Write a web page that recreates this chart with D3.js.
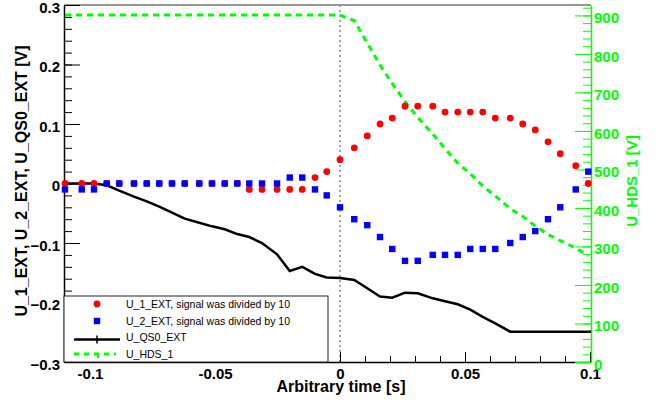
<!DOCTYPE html>
<html lang="en">
<head>
<meta charset="utf-8">
<title>U_EXT signals</title>
<script src="https://cdn.jsdelivr.net/npm/d3@7/dist/d3.min.js"></script>
<style type="text/css">
  body { margin: 0; background: #fff; }
  text { font-family: "Liberation Sans", Arial, sans-serif; }
</style>
</head>
<body>
<script type="text/javascript">
// sample times [s]
var times = [-0.110, -0.1033, -0.0984, -0.0933, -0.0883, -0.0824, -0.0773, -0.0723, -0.0672, -0.0621,
             -0.0563, -0.0512, -0.0461, -0.0411, -0.0363, -0.0312, -0.0252, -0.0201, -0.0151, -0.0100,
             -0.0053, 0.0000, 0.0057, 0.0109, 0.0160, 0.0209, 0.0260, 0.0311, 0.0371, 0.0420,
             0.0471, 0.0521, 0.0571, 0.0621, 0.0681, 0.0731, 0.0781, 0.0832, 0.0881, 0.0943, 0.0993];
// U_1_EXT (divided by 10) [V]
var u1 = [0, 0, 0, 0, 0, 0, 0, 0, 0, 0,
          0, 0, 0, 0, -0.01, -0.01, -0.01, -0.01, -0.01, 0.01,
          0.02, 0.04, 0.06, 0.08, 0.10, 0.11, 0.13, 0.13, 0.13, 0.12,
          0.12, 0.12, 0.12, 0.11, 0.11, 0.10, 0.09, 0.07, 0.05, 0.03, 0.00];
// U_2_EXT (divided by 10) [V]
var u2 = [-0.01, -0.01, -0.01, 0, 0, 0, 0, 0, 0, 0,
          0, 0, 0, 0, 0, 0, 0, 0.01, 0.01, -0.01,
          -0.02, -0.04, -0.06, -0.07, -0.09, -0.11, -0.13, -0.13, -0.12, -0.12,
          -0.12, -0.11, -0.11, -0.11, -0.10, -0.09, -0.08, -0.06, -0.04, -0.01, 0.02];
// U_QS0_EXT [V]
var qs0 = [0, 0, 0, -0.003, -0.012, -0.022, -0.030, -0.039, -0.049, -0.059,
           -0.066, -0.072, -0.077, -0.085, -0.090, -0.100, -0.119, -0.147, -0.140, -0.152,
           -0.158, -0.159, -0.162, -0.176, -0.190, -0.192, -0.1835, -0.1845, -0.193, -0.198,
           -0.203, -0.212, -0.224, -0.235, -0.249, -0.249, -0.249, -0.249, -0.249, -0.249, -0.249];
// U_HDS_1 [V], right axis
var hds = [901, 901, 901, 901, 901, 901, 901, 901, 901, 901,
           901, 901, 901, 901, 901, 901, 901, 901, 901, 901,
           901, 901, 886, 828, 771, 723, 676, 635, 592, 554,
           516, 489, 457, 431, 398, 378, 353, 331, 315, 296, 276];

var legendLabels = ["U_1_EXT, signal was divided by 10", "U_2_EXT, signal was divided by 10", "U_QS0_EXT", "U_HDS_1"];
var leftTicks = [-0.3, -0.2, -0.1, 0, 0.1, 0.2, 0.3];
var bottomTicks = [-0.1, -0.05, 0, 0.05, 0.1];
var rightTicks = [0, 100, 200, 300, 400, 500, 600, 700, 800, 900];

var w = 662, h = 406;
var padL = 64, padR = 591, padT = 5, padB = 362;
var green = "#00ff00";

var svg = d3.select("body").append("svg")
            .attr("width", w)
            .attr("height", h);

var xScale = d3.scaleLinear().domain([-0.1104, 0.1]).range([padL, padR - 1]);
var yScale = d3.scaleLinear().domain([-0.3, 0.3]).range([padB, padT]);
var y2Scale = d3.scaleLinear().domain([0, 927]).range([padB, padT]);

// frame top line
svg.append("line")
   .attr("x1", padL).attr("x2", padR)
   .attr("y1", padT).attr("y2", padT)
   .attr("stroke", "#333").attr("stroke-width", 1);

// vertical dotted line at t = 0
svg.append("line")
   .attr("x1", xScale(0)).attr("x2", xScale(0))
   .attr("y1", padT).attr("y2", padB)
   .attr("stroke", "#888").attr("stroke-width", 1.5)
   .attr("stroke-dasharray", "2,3");

// minor ticks
function minorTicks(start, stop, step) {
  var out = [];
  for (var v = start; v <= stop + step / 2; v += step) out.push(+v.toFixed(4));
  return out;
}

svg.append("g")
   .attr("transform", "translate(" + padL + ",0)")
   .call(d3.axisLeft(yScale).tickValues(minorTicks(-0.3, 0.3, 0.02)).tickSize(-8).tickFormat(""))
   .call(function(g) { g.select(".domain").remove(); });
svg.append("g")
   .attr("transform", "translate(0," + padB + ")")
   .call(d3.axisBottom(xScale).tickValues(minorTicks(-0.11, 0.1, 0.01)).tickSize(-6).tickFormat(""))
   .call(function(g) { g.select(".domain").remove(); });
svg.append("g")
   .attr("transform", "translate(" + padR + ",0)")
   .call(d3.axisRight(y2Scale).tickValues(minorTicks(0, 920, 20)).tickSize(-8).tickFormat(""))
   .call(function(g) { g.select(".domain").remove(); g.selectAll("line").attr("stroke", green); });

// major axes
var yAxis = svg.append("g")
   .attr("transform", "translate(" + padL + ",0)")
   .call(d3.axisLeft(yScale).tickValues(leftTicks).tickSizeInner(-16).tickSizeOuter(0).tickPadding(4)
         .tickFormat(function(d) { return d === 0 ? "0" : d3.format(".1f")(d); }));
var xAxis = svg.append("g")
   .attr("transform", "translate(0," + padB + ")")
   .call(d3.axisBottom(xScale).tickValues(bottomTicks).tickSizeInner(-10).tickSizeOuter(0).tickPadding(6)
         .tickFormat(function(d) { return d === 0 ? "0" : String(+d.toFixed(2)); }));
var y2Axis = svg.append("g")
   .attr("transform", "translate(" + padR + ",0)")
   .call(d3.axisRight(y2Scale).tickValues(rightTicks).tickSizeInner(-16).tickSizeOuter(0).tickPadding(3));

[yAxis, xAxis, y2Axis].forEach(function(g) {
  g.selectAll("text").attr("font-size", "15px").attr("font-weight", "bold")
   .attr("font-family", "'Liberation Sans', Arial, sans-serif");
  g.select(".domain").attr("stroke-width", 1.5);
});
yAxis.selectAll("text").attr("dy", "0.48em");
y2Axis.selectAll("text").attr("dy", "0.48em");
y2Axis.selectAll("text").attr("fill", green);
y2Axis.selectAll("line").attr("stroke", green);
y2Axis.select(".domain").attr("stroke", green);

// axis titles
svg.append("text")
   .attr("transform", "translate(27,181) rotate(-90)")
   .attr("text-anchor", "middle")
   .attr("font-size", "16px").attr("font-weight", "bold")
   .text("U_1_EXT, U_2_EXT, U_QS0_EXT [V]");
svg.append("text")
   .attr("transform", "translate(637,181) rotate(-90)")
   .attr("text-anchor", "middle")
   .attr("font-size", "15px").attr("font-weight", "bold")
   .attr("fill", green)
   .text("U_HDS_1 [V]");
svg.append("text")
   .attr("x", 341).attr("y", 392)
   .attr("text-anchor", "middle")
   .attr("font-size", "16px").attr("font-weight", "bold")
   .text("Arbitrary time [s]");

// series
var line = d3.line()
  .x(function(d, i) { return xScale(times[i]); })
  .y(function(d) { return yScale(d); });
var line2 = d3.line()
  .x(function(d, i) { return xScale(times[i]); })
  .y(function(d) { return y2Scale(d); });

svg.append("path")
   .attr("d", line2(hds))
   .attr("fill", "none").attr("stroke", green)
   .attr("stroke-width", 3).attr("stroke-dasharray", "6,5");

svg.append("path")
   .attr("d", line(qs0))
   .attr("fill", "none").attr("stroke", "black")
   .attr("stroke-width", 2.5);

// extend flat end of QS0 to the frame
svg.append("line")
   .attr("x1", xScale(times[times.length - 1])).attr("x2", padR)
   .attr("y1", yScale(qs0[qs0.length - 1])).attr("y2", yScale(qs0[qs0.length - 1]))
   .attr("stroke", "black").attr("stroke-width", 2.5);

svg.selectAll("circle.u1")
   .data(u1)
   .enter()
   .append("circle")
   .attr("class", "u1")
   .attr("cx", function(d, i) { return xScale(times[i]); })
   .attr("cy", function(d) { return yScale(d); })
   .attr("r", 3.4)
   .attr("fill", "red");

svg.selectAll("rect.u2")
   .data(u2)
   .enter()
   .append("rect")
   .attr("class", "u2")
   .attr("x", function(d, i) { return xScale(times[i]) - 3.2; })
   .attr("y", function(d) { return yScale(d) - 3.2; })
   .attr("width", 6.4).attr("height", 6.4)
   .attr("fill", "blue");

// legend
var lg = svg.append("g");
lg.append("rect")
  .attr("x", padL).attr("y", 296)
  .attr("width", 264).attr("height", padB - 296)
  .attr("fill", "white").attr("stroke", "#222").attr("stroke-width", 1);

var rowY = [304, 321, 337.5, 354];
lg.append("circle").attr("cx", 97).attr("cy", rowY[0]).attr("r", 3.4).attr("fill", "red");
lg.append("rect").attr("x", 93.8).attr("y", rowY[1] - 3.2).attr("width", 6.4).attr("height", 6.4).attr("fill", "blue");
lg.append("line").attr("x1", 74).attr("x2", 120).attr("y1", rowY[2] + 2).attr("y2", rowY[2] + 2)
  .attr("stroke", "black").attr("stroke-width", 2.5);
lg.append("line").attr("x1", 97).attr("x2", 97).attr("y1", rowY[2] - 2).attr("y2", rowY[2] + 6)
  .attr("stroke", "black").attr("stroke-width", 1.5);
lg.append("line").attr("x1", 74).attr("x2", 116).attr("y1", rowY[3]).attr("y2", rowY[3])
  .attr("stroke", green).attr("stroke-width", 3).attr("stroke-dasharray", "5,5");
lg.append("line").attr("x1", 98).attr("x2", 98).attr("y1", rowY[3]).attr("y2", rowY[3] + 4)
  .attr("stroke", green).attr("stroke-width", 2);

lg.selectAll("text.lab")
  .data(legendLabels)
  .enter()
  .append("text")
  .attr("class", "lab")
  .attr("x", 126)
  .attr("y", function(d, i) { return rowY[i] + 3.5; })
  .attr("font-size", "10.5px")
  .text(function(d) { return d; });
</script>
</body>
</html>
